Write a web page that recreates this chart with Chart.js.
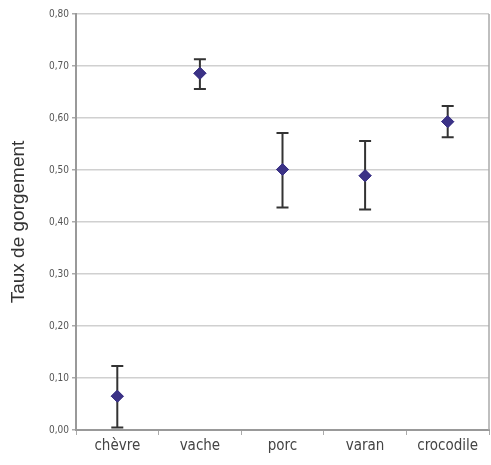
<!DOCTYPE html>
<html>
<head>
<meta charset="utf-8">
<script src="https://cdn.jsdelivr.net/npm/chart.js@4/dist/chart.umd.min.js"></script>
<style>
  html, body { margin: 0; padding: 0; background: #fff; }
  #wrap { width: 491px; height: 465px; }
</style>
</head>
<body>
<div id="wrap"><canvas id="grafico"></canvas></div>
<script>
// Données
const especes = ['chèvre', 'vache', 'porc', 'varan', 'crocodile'];
const moyennes = [0.065, 0.686, 0.501, 0.489, 0.593];
const erreurHaut = [0.123, 0.713, 0.571, 0.556, 0.623];
const erreurBas = [0.005, 0.656, 0.428, 0.424, 0.563];
const ticksY = [0, 0.1, 0.2, 0.3, 0.4, 0.5, 0.6, 0.7, 0.8];

const policeEtroite = "'Liberation Sans Narrow', 'DejaVu Sans Condensed', 'Open Sans', sans-serif";

// Barres d'erreur dessinées avec les échelles du graphique
const barresErreur = {
    id: 'barresErreur',
    afterDatasetsDraw(chart) {
        const ctx = chart.ctx;
        const x = chart.scales.x;
        const y = chart.scales.y;
        ctx.save();
        ctx.strokeStyle = '#333333';
        ctx.lineWidth = 2;
        especes.forEach((esp, i) => {
            const px = x.getPixelForValue(i);
            const yh = y.getPixelForValue(erreurHaut[i]);
            const yb = y.getPixelForValue(erreurBas[i]);
            ctx.beginPath();
            ctx.moveTo(px, yh);
            ctx.lineTo(px, yb);
            ctx.moveTo(px - 6, yh);
            ctx.lineTo(px + 6, yh);
            ctx.moveTo(px - 6, yb);
            ctx.lineTo(px + 6, yb);
            ctx.stroke();
        });
        ctx.restore();
        // on redessine les points par-dessus
        chart.getDatasetMeta(0).controller.draw();
    }
};

// Cadre droit du graphique
const cadre = {
    id: 'cadre',
    beforeDatasetsDraw(chart) {
        const a = chart.chartArea;
        const ctx = chart.ctx;
        ctx.save();
        ctx.strokeStyle = '#aaaaaa';
        ctx.lineWidth = 1.5;
        ctx.beginPath();
        ctx.moveTo(a.right, a.top);
        ctx.lineTo(a.right, a.bottom);
        ctx.stroke();
        ctx.restore();
    }
};

const data = {
    labels: especes,
    datasets: [{
        label: 'Taux de gorgement',
        data: moyennes,
        showLine: false,
        pointStyle: 'rectRot',
        pointRadius: 6,
        pointHoverRadius: 6,
        backgroundColor: '#3b3286',
        borderColor: '#3b3286',
        borderWidth: 1
    }]
};

const config = {
    type: 'line',
    data: data,
    options: {
        responsive: true,
        maintainAspectRatio: false,
        animation: false,
        layout: { autoPadding: false, padding: { top: 14, right: 2, left: 0, bottom: 0 } },
        plugins: {
            legend: { display: false },
            tooltip: { enabled: false }
        },
        scales: {
            x: {
                offset: true,
                grid: {
                    offset: true,
                    drawOnChartArea: false,
                    drawTicks: true,
                    tickLength: 5,
                    color: '#aaaaaa'
                },
                border: { color: '#999999', width: 2 },
                ticks: {
                    color: '#444444',
                    font: { family: policeEtroite, size: 15 },
                    padding: 2,
                    maxRotation: 0
                },
                afterFit(axis) {
                    axis.height = 35;
                    axis.paddingLeft = 0;
                    axis.paddingRight = 0;
                }
            },
            y: {
                min: 0,
                max: 0.8,
                afterBuildTicks(axis) {
                    axis.ticks = ticksY.map(v => ({ value: v }));
                },
                grid: {
                    color: '#d0d0d0',
                    lineWidth: 1.5,
                    tickLength: 4,
                    tickColor: '#aaaaaa'
                },
                border: { color: '#999999', width: 2 },
                ticks: {
                    color: '#555555',
                    font: { family: policeEtroite, size: 10 },
                    padding: 3,
                    callback: v => v.toFixed(2).replace('.', ',')
                },
                title: {
                    display: true,
                    text: 'Taux de gorgement',
                    color: '#333333',
                    font: { family: "'Liberation Sans', Arial, sans-serif", size: 19 },
                    padding: { top: 7, bottom: 10 }
                },
                afterFit(axis) { axis.width = 76; }
            }
        }
    },
    plugins: [cadre, barresErreur]
};

const ctx = document.getElementById('grafico').getContext('2d');
new Chart(ctx, config);
</script>
</body>
</html>
